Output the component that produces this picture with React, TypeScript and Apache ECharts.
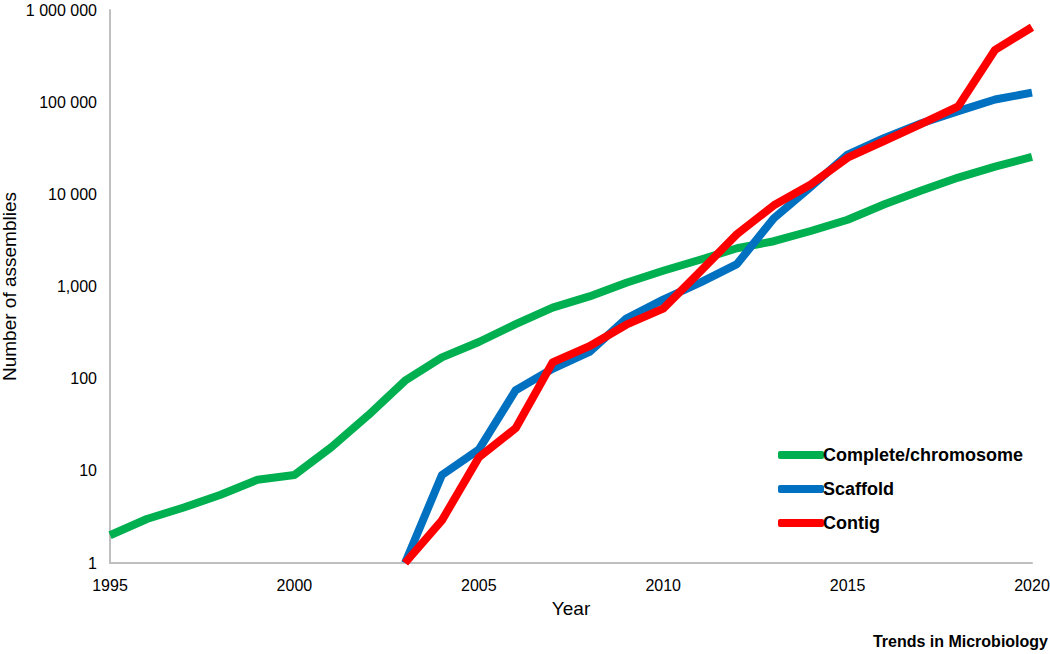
import React, { useEffect, useRef } from "react";
import * as echarts from "echarts";

const yearsAll = [1995, 1996, 1997, 1998, 1999, 2000, 2001, 2002, 2003, 2004, 2005, 2006, 2007, 2008, 2009, 2010, 2011, 2012, 2013, 2014, 2015, 2016, 2017, 2018, 2019, 2020];
const completeValues = [2, 3, 4, 5.5, 8, 9, 18, 40, 95, 170, 250, 390, 590, 780, 1100, 1480, 1950, 2600, 3100, 4000, 5300, 7800, 11000, 15200, 20000, 25500];

const yearsLater = [2003, 2004, 2005, 2006, 2007, 2008, 2009, 2010, 2011, 2012, 2013, 2014, 2015, 2016, 2017, 2018, 2019, 2020];
const scaffoldValues = [1, 9, 17, 75, 128, 195, 450, 720, 1100, 1750, 5500, 12000, 27000, 41000, 59000, 80000, 107000, 127000];
const contigValues = [1, 2.9, 14, 29, 150, 225, 385, 575, 1450, 3700, 7600, 12800, 25000, 38000, 58000, 90000, 370000, 650000];

const yTickLabels: Record<string, string> = {
  "1": "1",
  "10": "10",
  "100": "100",
  "1000": "1,000",
  "10000": "10 000",
  "100000": "100 000",
  "1000000": "1 000 000",
};

const seriesNames = ["Complete/chromosome", "Scaffold", "Contig"];
const colors = ["#00B050", "#0070C0", "#FF0000"];

export default function App() {
  const ref = useRef<HTMLDivElement>(null);
  useEffect(() => {
    if (!ref.current) return;
    const chart = echarts.init(ref.current, null, { renderer: "svg" });
    const pair = (xs: number[], ys: number[]) => xs.map((x, i) => [x, ys[i]]);
    const font = "Liberation Sans, Arial, sans-serif";
    chart.setOption({
      animation: false,
      textStyle: { fontFamily: font },
      grid: { left: 110, right: 18, top: 10, bottom: 91, containLabel: false, outerBoundsMode: "none" },
      xAxis: {
        type: "value",
        min: 1995,
        max: 2020,
        interval: 5,
        name: "Year",
        nameLocation: "middle",
        nameGap: 36,
        nameMoveOverlap: false,
        nameTextStyle: { fontSize: 19, color: "#000", fontFamily: font },
        axisLine: { show: true, lineStyle: { color: "#BFBFBF", width: 2 } },
        axisTick: { show: false },
        splitLine: { show: false },
        axisLabel: { fontSize: 16, color: "#000", margin: 14, formatter: (v: number) => String(v) },
      },
      yAxis: {
        type: "log",
        logBase: 10,
        min: 1,
        max: 1000000,
        name: "Number of assemblies",
        nameLocation: "middle",
        nameGap: 91,
        nameMoveOverlap: false,
        nameRotate: 90,
        nameTextStyle: { fontSize: 19, color: "#000", fontFamily: font },
        axisLine: { show: true, lineStyle: { color: "#BFBFBF", width: 2 } },
        axisTick: { show: false },
        splitLine: { show: false },
        minorTick: { show: false },
        axisLabel: {
          fontSize: 16,
          color: "#000",
          margin: 13,
          formatter: (v: number) => yTickLabels[String(Math.round(v))] ?? String(v),
        },
      },
      legend: {
        orient: "vertical",
        left: 773,
        top: 440,
        itemWidth: 46,
        itemHeight: 8,
        itemGap: 14,
        icon: "roundRect",
        data: seriesNames,
        textStyle: { fontSize: 18, fontWeight: "bold", color: "#000", padding: [0, 0, 0, -6], lineHeight: 20 },
      },
      series: [
        { name: seriesNames[0], data: pair(yearsAll, completeValues) },
        { name: seriesNames[1], data: pair(yearsLater, scaffoldValues) },
        { name: seriesNames[2], data: pair(yearsLater, contigValues) },
      ].map((s, i) => ({
        ...s,
        type: "line",
        showSymbol: false,
        symbol: "none",
        color: colors[i],
        lineStyle: { width: 8, color: colors[i], join: "round", cap: "butt" },
        clip: true,
      })),
      graphic: [
        {
          type: "text",
          right: 2,
          top: 633,
          style: {
            text: "Trends in Microbiology",
            font: "bold 16px 'Liberation Sans Narrow', 'Arial Narrow', sans-serif",
            fill: "#000",
          },
        },
      ],
    });
    return () => chart.dispose();
  }, []);
  return <div ref={ref} style={{ width: 1050, height: 654, position: "absolute", left: 0, top: 0 }} />;
}
